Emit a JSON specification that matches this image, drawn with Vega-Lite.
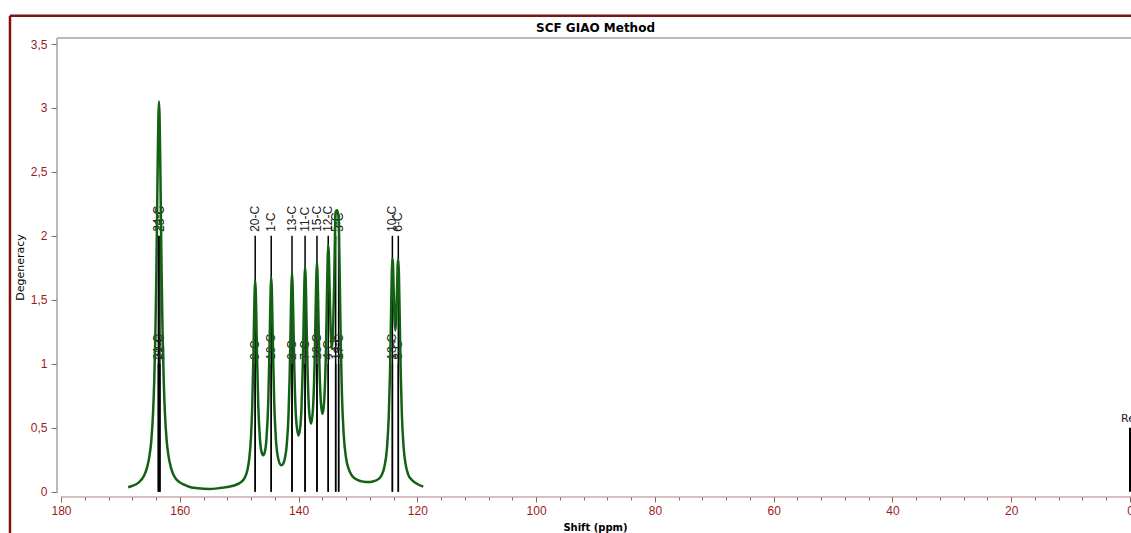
{
  "$schema": "https://vega.github.io/schema/vega-lite/v6.json",
  "width": 1131,
  "height": 533,
  "padding": 0,
  "autosize": {"type": "none"},
  "background": "white",
  "title": {"text": "SCF GIAO Method", "anchor": "middle", "frame": "group", "orient": "top", "offset": -44, "dx": 30, "fontSize": 12, "fontWeight": "bold", "font": "DejaVu Sans", "color": "black", "baseline": "alphabetic"},
  "config": {"view": {"stroke": null}, "axis": {"grid": false}},
  "datasets": {
    "curve": [
      {"shift": 168.7, "value": 0.035}, {"shift": 168.0, "value": 0.046}, {"shift": 167.0, "value": 0.069}, {"shift": 166.0, "value": 0.126},
      {"shift": 165.5, "value": 0.19}, {"shift": 165.1, "value": 0.28}, {"shift": 164.8, "value": 0.395}, {"shift": 164.5, "value": 0.615},
      {"shift": 164.3, "value": 0.865}, {"shift": 164.1, "value": 1.255}, {"shift": 163.95, "value": 1.685}, {"shift": 163.8, "value": 2.245},
      {"shift": 163.7, "value": 2.63}, {"shift": 163.6, "value": 2.93}, {"shift": 163.5, "value": 3.05}, {"shift": 163.4, "value": 2.93},
      {"shift": 163.3, "value": 2.63}, {"shift": 163.2, "value": 2.245}, {"shift": 163.05, "value": 1.685}, {"shift": 162.9, "value": 1.255},
      {"shift": 162.7, "value": 0.865}, {"shift": 162.5, "value": 0.615}, {"shift": 162.2, "value": 0.395}, {"shift": 161.9, "value": 0.28},
      {"shift": 161.5, "value": 0.19}, {"shift": 161.0, "value": 0.126}, {"shift": 160.0, "value": 0.073}, {"shift": 159.0, "value": 0.05},
      {"shift": 158.0, "value": 0.033}, {"shift": 157.0, "value": 0.027}, {"shift": 156.0, "value": 0.023}, {"shift": 155.0, "value": 0.022},
      {"shift": 154.0, "value": 0.024}, {"shift": 153.0, "value": 0.03}, {"shift": 152.0, "value": 0.036}, {"shift": 151.0, "value": 0.046},
      {"shift": 150.0, "value": 0.065}, {"shift": 149.5, "value": 0.082}, {"shift": 149.0, "value": 0.115}, {"shift": 148.6, "value": 0.172},
      {"shift": 148.3, "value": 0.258}, {"shift": 148.0, "value": 0.433}, {"shift": 147.8, "value": 0.667}, {"shift": 147.6, "value": 1.07},
      {"shift": 147.5, "value": 1.33}, {"shift": 147.4, "value": 1.557}, {"shift": 147.3, "value": 1.653}, {"shift": 147.2, "value": 1.562},
      {"shift": 147.1, "value": 1.34}, {"shift": 147.0, "value": 1.086}, {"shift": 146.8, "value": 0.697}, {"shift": 146.5, "value": 0.411},
      {"shift": 146.2, "value": 0.305}, {"shift": 145.95, "value": 0.285}, {"shift": 145.7, "value": 0.307}, {"shift": 145.4, "value": 0.415},
      {"shift": 145.1, "value": 0.703}, {"shift": 144.9, "value": 1.096}, {"shift": 144.8, "value": 1.35}, {"shift": 144.7, "value": 1.573},
      {"shift": 144.6, "value": 1.676}, {"shift": 144.5, "value": 1.581}, {"shift": 144.4, "value": 1.354}, {"shift": 144.3, "value": 1.098},
      {"shift": 144.1, "value": 0.699}, {"shift": 143.8, "value": 0.402}, {"shift": 143.4, "value": 0.254}, {"shift": 142.9, "value": 0.207},
      {"shift": 142.6, "value": 0.218}, {"shift": 142.3, "value": 0.261}, {"shift": 142.0, "value": 0.36}, {"shift": 141.7, "value": 0.588},
      {"shift": 141.5, "value": 0.899}, {"shift": 141.3, "value": 1.383}, {"shift": 141.2, "value": 1.612}, {"shift": 141.1, "value": 1.71},
      {"shift": 141.0, "value": 1.621}, {"shift": 140.9, "value": 1.4}, {"shift": 140.7, "value": 0.935}, {"shift": 140.4, "value": 0.562},
      {"shift": 140.0, "value": 0.439}, {"shift": 139.7, "value": 0.51}, {"shift": 139.5, "value": 0.66}, {"shift": 139.3, "value": 0.96},
      {"shift": 139.1, "value": 1.435}, {"shift": 139.0, "value": 1.66}, {"shift": 138.9, "value": 1.758}, {"shift": 138.8, "value": 1.668},
      {"shift": 138.7, "value": 1.446}, {"shift": 138.5, "value": 0.983}, {"shift": 138.2, "value": 0.62}, {"shift": 137.9, "value": 0.532},
      {"shift": 137.6, "value": 0.628}, {"shift": 137.3, "value": 1.002}, {"shift": 137.1, "value": 1.473}, {"shift": 137.0, "value": 1.698},
      {"shift": 136.9, "value": 1.795}, {"shift": 136.8, "value": 1.704}, {"shift": 136.7, "value": 1.484}, {"shift": 136.5, "value": 1.024},
      {"shift": 136.2, "value": 0.674}, {"shift": 135.95, "value": 0.608}, {"shift": 135.7, "value": 0.698}, {"shift": 135.4, "value": 1.082},
      {"shift": 135.2, "value": 1.576}, {"shift": 135.1, "value": 1.815}, {"shift": 135.0, "value": 1.928}, {"shift": 134.9, "value": 1.854},
      {"shift": 134.8, "value": 1.657}, {"shift": 134.6, "value": 1.267}, {"shift": 134.4, "value": 1.121}, {"shift": 134.2, "value": 1.24},
      {"shift": 134.0, "value": 1.642}, {"shift": 133.85, "value": 2.037}, {"shift": 133.75, "value": 2.19}, {"shift": 133.5, "value": 2.2},
      {"shift": 133.25, "value": 2.136}, {"shift": 133.1, "value": 1.777}, {"shift": 132.9, "value": 1.176}, {"shift": 132.7, "value": 0.767},
      {"shift": 132.4, "value": 0.449}, {"shift": 132.0, "value": 0.263}, {"shift": 131.5, "value": 0.17}, {"shift": 131.0, "value": 0.125},
      {"shift": 130.0, "value": 0.09}, {"shift": 129.0, "value": 0.078}, {"shift": 128.3, "value": 0.075}, {"shift": 127.5, "value": 0.08},
      {"shift": 126.5, "value": 0.1}, {"shift": 126.0, "value": 0.13}, {"shift": 125.5, "value": 0.205}, {"shift": 125.1, "value": 0.347},
      {"shift": 124.8, "value": 0.601}, {"shift": 124.6, "value": 0.934}, {"shift": 124.4, "value": 1.453}, {"shift": 124.3, "value": 1.706},
      {"shift": 124.2, "value": 1.825}, {"shift": 124.1, "value": 1.782}, {"shift": 124.0, "value": 1.612}, {"shift": 123.85, "value": 1.358},
      {"shift": 123.7, "value": 1.26}, {"shift": 123.55, "value": 1.358}, {"shift": 123.4, "value": 1.612}, {"shift": 123.3, "value": 1.782},
      {"shift": 123.2, "value": 1.815}, {"shift": 123.1, "value": 1.704}, {"shift": 123.0, "value": 1.451}, {"shift": 122.8, "value": 0.932},
      {"shift": 122.6, "value": 0.598}, {"shift": 122.3, "value": 0.342}, {"shift": 122.0, "value": 0.221}, {"shift": 121.5, "value": 0.13},
      {"shift": 121.0, "value": 0.095}, {"shift": 120.0, "value": 0.06}, {"shift": 119.0, "value": 0.04}
    ],
    "atoms": [
      {"shift": 163.6, "atom": "24-C", "value": 2}, {"shift": 163.6, "atom": "21-C", "value": 1},
      {"shift": 163.35, "atom": "23-C", "value": 2}, {"shift": 163.35, "atom": "22-C", "value": 1},
      {"shift": 147.3, "atom": "20-C", "value": 2}, {"shift": 147.3, "atom": "9-C", "value": 1},
      {"shift": 144.6, "atom": "1-C", "value": 2}, {"shift": 144.6, "atom": "19-C", "value": 1},
      {"shift": 141.1, "atom": "13-C", "value": 2}, {"shift": 141.1, "atom": "2-C", "value": 1},
      {"shift": 138.9, "atom": "11-C", "value": 2}, {"shift": 138.9, "atom": "7-C", "value": 1},
      {"shift": 136.9, "atom": "15-C", "value": 2}, {"shift": 136.9, "atom": "16-C", "value": 1},
      {"shift": 135.0, "atom": "12-C", "value": 2}, {"shift": 135.0, "atom": "4-C", "value": 1},
      {"shift": 133.75, "atom": "5-C", "value": 2}, {"shift": 133.75, "atom": "14-C", "value": 1},
      {"shift": 133.25, "atom": "3-C", "value": 2}, {"shift": 133.25, "atom": "17-C", "value": 1},
      {"shift": 124.2, "atom": "10-C", "value": 2}, {"shift": 124.2, "atom": "18-C", "value": 1},
      {"shift": 123.2, "atom": "6-C", "value": 2}, {"shift": 123.2, "atom": "8-C", "value": 1}
    ],
    "ref": [{"shift": 0, "atom": "Ref", "value": 0.5}]
  },
  "layer": [
    {
      "data": {"name": "curve"},
      "mark": {"type": "line", "color": "#136213", "strokeWidth": 2.5, "interpolate": "monotone", "opacity": 0},
      "encoding": {
        "x": {"field": "shift", "type": "quantitative", "scale": {"domain": [-0.168, 190.27], "reverse": true, "nice": false, "zero": false}, "axis": {"orient": "bottom", "offset": -36, "values": [0,20,40,60,80,100,120,140,160,180], "domain": false, "tickSize": 5, "tickColor": "#8a6060", "labelColor": "#9b1b1b", "labelFont": "Liberation Sans", "labelFontSize": 12, "labelPadding": 3, "labelFlush": false, "title": "Shift (ppm)", "titleFont": "DejaVu Sans", "titleFontSize": 10, "titleFontWeight": "bold", "titleColor": "black", "titleX": 595, "titleY": 30, "titleBaseline": "middle", "titleAlign": "center"}},
        "y": {"field": "value", "type": "quantitative", "scale": {"domain": [-0.3229, 3.844], "nice": false, "zero": false}, "axis": {"orient": "left", "offset": -57, "values": [0,0.5,1,1.5,2,2.5,3,3.5], "format": "~g", "labelExpr": "replace(datum.label, '.', ',')", "domain": false, "tickSize": 6, "tickColor": "#8a6060", "labelColor": "#9b1b1b", "labelFont": "Liberation Sans", "labelFontSize": 12, "labelPadding": 4, "labelFlush": false, "title": "Degeneracy", "titleFont": "DejaVu Sans", "titleFontSize": 11, "titleFontWeight": "normal", "titleColor": "black", "titleX": -37, "titleY": 267, "titleAngle": 270, "titleBaseline": "middle", "titleAlign": "center"}}
      }
    },
    {
      "data": {"values": [{}]},
      "mark": {"type": "rule", "color": "#7d1414", "strokeWidth": 2.5},
      "encoding": {
        "x": {"datum": 188.59, "type": "quantitative", "axis": null},
        "y": {"datum": 3.7212, "type": "quantitative", "axis": null},
        "y2": {"datum": -0.3229}
      }
    },
    {
      "data": {"values": [{}]},
      "mark": {"type": "rule", "color": "#7d1414", "strokeWidth": 2.5},
      "encoding": {
        "x": {"datum": 188.59, "type": "quantitative", "axis": null},
        "x2": {"datum": -0.168},
        "y": {"datum": 3.7212, "type": "quantitative", "axis": null}
      }
    },
    {
      "data": {"values": [{}]},
      "mark": {"type": "rule", "color": "#a8a0a0", "strokeWidth": 1.5},
      "encoding": {
        "x": {"datum": 180.67, "type": "quantitative", "axis": null},
        "y": {"datum": 3.547, "type": "quantitative", "axis": null},
        "y2": {"datum": -0.01}
      }
    },
    {
      "data": {"values": [{}]},
      "mark": {"type": "rule", "color": "#a8a0a0", "strokeWidth": 1.5},
      "encoding": {
        "x": {"datum": 180.67, "type": "quantitative", "axis": null},
        "x2": {"datum": -0.168},
        "y": {"datum": 3.547, "type": "quantitative", "axis": null}
      }
    },
    {
      "data": {"values": [{}]},
      "mark": {"type": "rule", "color": "#b08080", "strokeWidth": 1},
      "encoding": {
        "x": {"datum": 180, "type": "quantitative", "axis": null},
        "x2": {"datum": -0.168},
        "y": {"datum": -0.0414, "type": "quantitative", "axis": null}
      }
    },
    {
      "data": {"name": "atoms"},
      "mark": {"type": "rule", "color": "black", "strokeWidth": 1.5},
      "encoding": {
        "x": {"field": "shift", "type": "quantitative", "axis": {"orient": "bottom", "offset": -36, "values": [0,4,8,12,16,20,24,28,32,36,40,44,48,52,56,60,64,68,72,76,80,84,88,92,96,100,104,108,112,116,120,124,128,132,136,140,144,148,152,156,160,164,168,172,176,180], "labels": false, "domain": false, "tickSize": 3, "tickColor": "#8a6060", "title": null}},
        "y": {"field": "value", "type": "quantitative", "axis": null},
        "y2": {"datum": 0}
      }
    },
    {
      "data": {"name": "atoms"},
      "mark": {"type": "text", "angle": 270, "align": "left", "baseline": "middle", "dx": 4, "font": "Liberation Sans", "fontSize": 12, "color": "#202020"},
      "encoding": {
        "x": {"field": "shift", "type": "quantitative", "axis": null},
        "y": {"field": "value", "type": "quantitative", "axis": null},
        "text": {"field": "atom"}
      }
    },
    {
      "data": {"name": "curve"},
      "mark": {"type": "line", "color": "#136213", "strokeWidth": 2.5, "interpolate": "monotone"},
      "encoding": {
        "x": {"field": "shift", "type": "quantitative", "axis": null},
        "y": {"field": "value", "type": "quantitative", "axis": null}
      }
    },
    {
      "data": {"name": "ref"},
      "mark": {"type": "rule", "color": "black", "strokeWidth": 2},
      "encoding": {
        "x": {"field": "shift", "type": "quantitative", "axis": null},
        "y": {"field": "value", "type": "quantitative", "axis": null},
        "y2": {"datum": 0}
      }
    },
    {
      "data": {"name": "ref"},
      "mark": {"type": "text", "align": "center", "baseline": "alphabetic", "dy": -6, "font": "DejaVu Sans", "fontSize": 11, "color": "#202020"},
      "encoding": {
        "x": {"field": "shift", "type": "quantitative", "axis": null},
        "y": {"field": "value", "type": "quantitative", "axis": null},
        "text": {"field": "atom"}
      }
    }
  ],
  "resolve": {"axis": {"x": "independent", "y": "independent"}}
}
